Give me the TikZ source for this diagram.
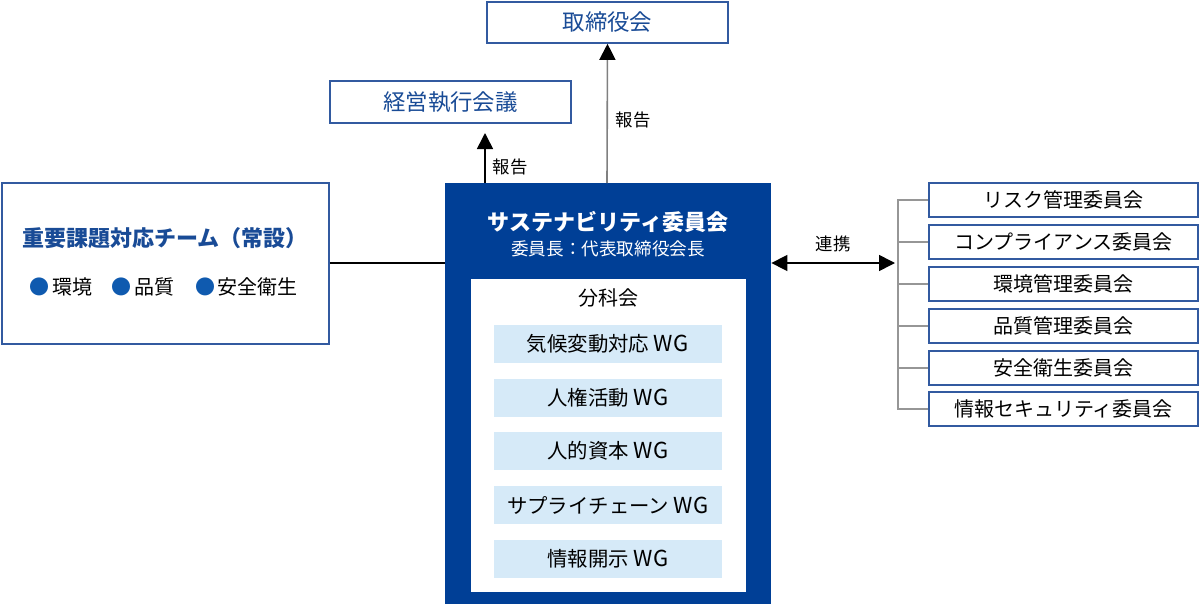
\documentclass[tikz,border=0pt]{standalone}
\usepackage{fontspec}
\newfontfamily\jp{Noto Sans CJK JP}
\usetikzlibrary{arrows.meta}
\definecolor{mainblue}{RGB}{0,63,150}
\definecolor{bordblue}{RGB}{50,90,160}
\definecolor{txtblue}{RGB}{25,75,150}
\definecolor{wgfill}{RGB}{214,234,248}
\definecolor{dotblue}{RGB}{15,90,175}
\definecolor{lgrey}{RGB}{150,150,150}
\newcommand{\wgtag}{\kern0.2em{\fontsize{11}{12}\selectfont W\kern0.05em G}}
\tikzset{
  topbox/.style={draw=bordblue, line width=0.8pt, fill=white, inner sep=0pt, text=txtblue, font=\jp\fontsize{11.2}{13}\selectfont},
  rbox/.style={draw=bordblue, line width=0.8pt, fill=white, inner sep=0pt, minimum width=134.5pt, minimum height=17pt, font=\jp\fontsize{10}{12}\selectfont},
  wgbox/.style={fill=wgfill, inner sep=0pt, minimum width=114pt, minimum height=19pt, font=\jp\fontsize{10.2}{12}\selectfont},
  lbl/.style={font=\jp\fontsize{8.7}{10}\selectfont, inner sep=0pt},
  arr/.style={line width=0.8pt, -{Triangle[length=8pt,width=8pt,black]}},
}
\begin{document}
\begin{tikzpicture}[x=0.5pt,y=-0.5pt]
\useasboundingbox (0,0) rectangle (1200,605);
% top boxes
\node[topbox, minimum width=120.5pt, minimum height=20.5pt] (board) at (607.5,22.5) {取締役会};
\node[topbox, minimum width=120.5pt, minimum height=21pt] (exec) at (450.5,102) {経営執行会議};
% main box
\node[fill=mainblue, inner sep=0pt, minimum width=163pt, minimum height=210.5pt] (main) at (608,393.5) {};
\node[font=\jp\bfseries\fontsize{11}{13}\selectfont, text=white, inner sep=0pt] (mtitle) at (608,222) {サステナビリティ委員会};
\node[font=\jp\fontsize{8.8}{11}\selectfont, text=white, inner sep=0pt] (msub) at (608,249) {委員長：代表取締役会長};
\node[fill=white, inner sep=0pt, minimum width=137.5pt, minimum height=156.5pt] (inner) at (608.5,435.5) {};
\node[font=\jp\fontsize{10}{12}\selectfont, inner sep=0pt] (bunka) at (608,298) {分科会};
\node[wgbox] (wg1) at (608,344) {気候変動対応\wgtag};
\node[wgbox] (wg2) at (608,397.5) {人権活動\wgtag};
\node[wgbox] (wg3) at (608,451) {人的資本\wgtag};
\node[wgbox] (wg4) at (608,505) {サプライチェーン\wgtag};
\node[wgbox] (wg5) at (608,559) {情報開示\wgtag};
% arrows up
\coordinate (a1) at (485,183);
\coordinate (a1t) at (485,133);
\draw[arr, black] (a1) -- (a1t);
\node[lbl] (rep1) at (510,167) {報告};
\coordinate (a2) at (607,183);
\draw[arr, draw=gray] (a2) -- (board.south);
\node[lbl] (rep2) at (633,120) {報告};
% left box
\node[draw=bordblue, line width=0.8pt, inner sep=0pt, minimum width=163.5pt, minimum height=80.5pt] (team) at (165.5,263.5) {};
\node[font=\jp\fontsize{11}{13}\selectfont, text=txtblue, inner sep=0pt] (teamt) at (165,238) {\textbf{重要課題対応チーム（常設）}};
\node[text=dotblue, inner sep=0pt, font=\fontsize{10}{10}\selectfont] (d1) at (39,287) {\jp ●};
\node[anchor=west, inner sep=0pt, font=\jp\fontsize{10}{12}\selectfont] (t1) at (52,287) {環境};
\node[text=dotblue, inner sep=0pt, font=\fontsize{10}{10}\selectfont] (d2) at (121,287) {\jp ●};
\node[anchor=west, inner sep=0pt, font=\jp\fontsize{10}{12}\selectfont] (t2) at (134,287) {品質};
\node[text=dotblue, inner sep=0pt, font=\fontsize{10}{10}\selectfont] (d3) at (205,287) {\jp ●};
\node[anchor=west, inner sep=0pt, font=\jp\fontsize{10}{12}\selectfont] (t3) at (217,287) {安全衛生};
\draw[line width=0.7pt] (team.east |- 0,263) -- (main.west |- 0,263);
% right boxes
\node[rbox] (r1) at (1063.5,200) {リスク管理委員会};
\node[rbox] (r2) at (1063.5,242) {コンプライアンス委員会};
\node[rbox] (r3) at (1063.5,284) {環境管理委員会};
\node[rbox] (r4) at (1063.5,326) {品質管理委員会};
\node[rbox] (r5) at (1063.5,368) {安全衛生委員会};
\node[rbox] (r6) at (1063.5,409) {情報セキュリティ委員会};
\coordinate (bt) at (898,200);
\coordinate (bb) at (898,409);
\draw[lgrey, line width=0.6pt] (r1.west) -- (bt) -- (bb) -- (r6.west);
\foreach \r in {r2,r3,r4,r5}{\draw[lgrey, line width=0.6pt] (\r.west) -- (\r.west -| bt);}
\coordinate (lk) at (895,263);
\draw[line width=0.8pt, {Triangle[length=8pt,width=8pt]}-{Triangle[length=8pt,width=8pt]}] (main.east |- 0,263) -- (lk);
\node[lbl] (renkei) at (833,244) {連携};
\end{tikzpicture}
\end{document}
